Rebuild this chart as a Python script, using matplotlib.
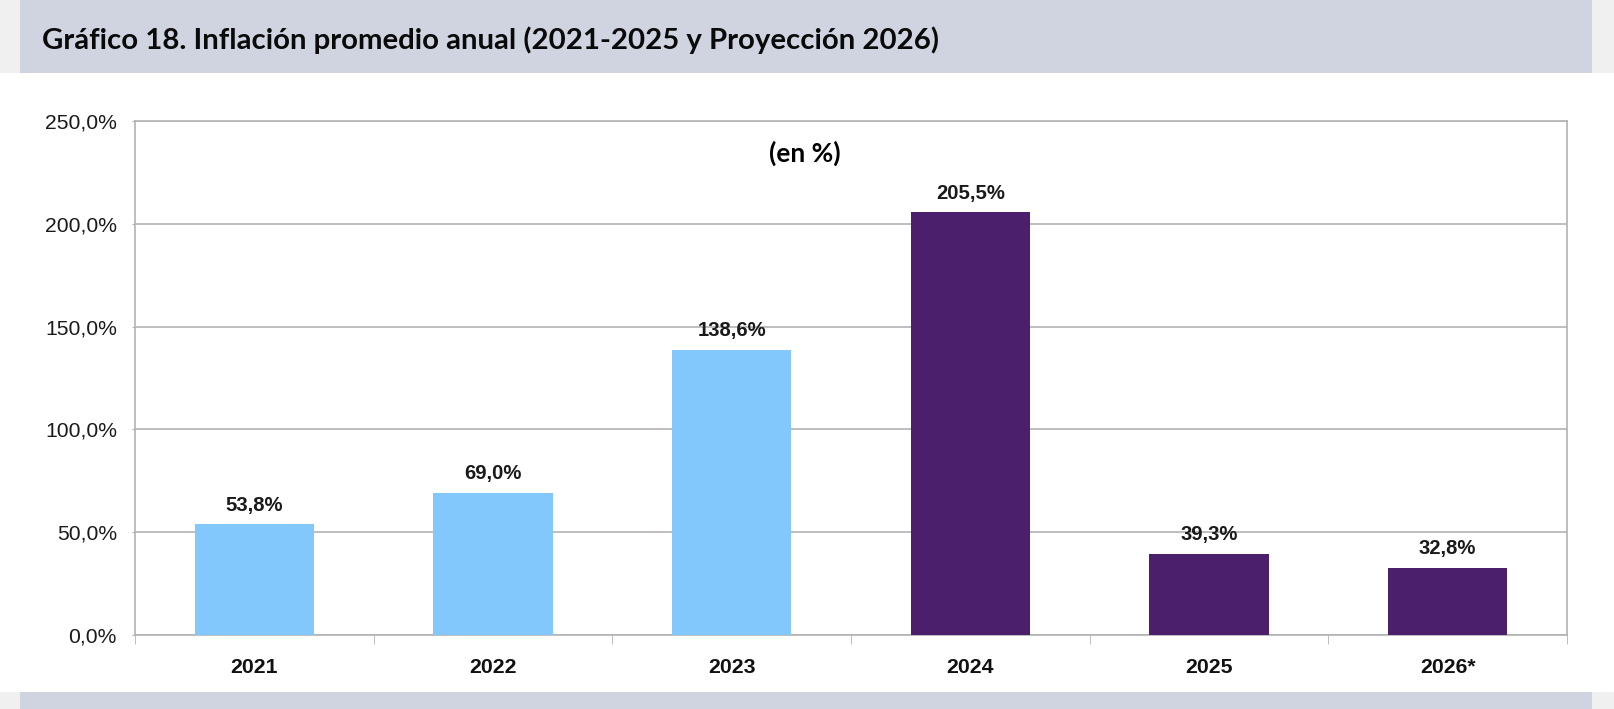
import matplotlib
matplotlib.use("Agg")
import matplotlib.pyplot as plt
from matplotlib.patches import Rectangle
from matplotlib.ticker import FixedLocator, FuncFormatter

years = ["2021", "2022", "2023", "2024", "2025", "2026*"]
inflation = [53.8, 69.0, 138.6, 205.5, 39.3, 32.8]
bar_colors = ["#82c8fc", "#82c8fc", "#82c8fc", "#4b1f6b", "#4b1f6b", "#4b1f6b"]
yticks = [0, 50, 100, 150, 200, 250]

title = "Gráfico 18. Inflación promedio anual (2021-2025 y Proyección 2026)"
subtitle = "(en %)"

W, H = 1614, 709
fig = plt.figure(figsize=(W / 100, H / 100), dpi=100)
fig.patch.set_facecolor("white")


def px_rect(x0, y0, x1, y1, color):
    # rectangle given in pixel coords from the top-left corner
    fig.patches.append(Rectangle((x0 / W, 1 - y1 / H), (x1 - x0) / W, (y1 - y0) / H,
                                 transform=fig.transFigure, facecolor=color,
                                 edgecolor="none", zorder=0))


band = "#cfd4e0"
side = "#f0f0f0"
px_rect(0, 0, 20, 73, side)
px_rect(20, 0, 1592, 73, band)
px_rect(1592, 0, W, 73, side)
px_rect(0, 692, 20, H, side)
px_rect(20, 692, 1592, H, band)
px_rect(1592, 692, W, H, side)

fig.text(42 / W, 1 - 40 / H, title, fontsize=21.2, fontweight="bold",
         family="Lato", ha="left", va="center", color="#0a0a0a")

ax = fig.add_axes([135 / W, 1 - 635 / H, (1567 - 135) / W, (635 - 121) / H])
x = list(range(len(years)))
bars = ax.bar(x, inflation, width=0.5, color=bar_colors, zorder=3)

ax.set_xlim(-0.5, len(years) - 0.5)
ax.set_ylim(0, 250)
ax.yaxis.set_major_locator(FixedLocator(yticks))
ax.yaxis.set_major_formatter(FuncFormatter(lambda v, p: f"{v:.1f}%".replace(".", ",")))
ax.yaxis.grid(True, color="#b3b3b3", linewidth=1.2, zorder=0)

ax.set_xticks(x)
ax.set_xticklabels(years, fontsize=15.3, fontweight="bold", family="Liberation Sans",
                   color="#111111")
ax.set_xticks([i - 0.5 for i in range(len(years) + 1)], minor=True)
ax.tick_params(axis="x", which="major", length=0, pad=16.5)
ax.tick_params(axis="x", which="minor", length=6.5, color="#b3b3b3", direction="out")
ax.tick_params(axis="y", length=2.5, color="#b3b3b3", pad=10.5, labelsize=15.2,
               labelcolor="#1a1a1a")
for lab in ax.get_yticklabels():
    lab.set_family("Liberation Sans")

for s in ax.spines.values():
    s.set_color("#b3b3b3")
    s.set_linewidth(1.2)

for xi, v in zip(x, inflation):
    ax.annotate(f"{v:.1f}%".replace(".", ","), (xi, v), xytext=(0, 7),
                textcoords="offset points", ha="center", va="bottom",
                fontsize=14.6, fontweight="bold", family="Liberation Sans",
                color="#1a1a1a")

ax.text(805 / W, 1 - 153 / H, subtitle, transform=fig.transFigure, ha="center",
        va="center", fontsize=19, fontweight="bold", family="Lato")

fig.savefig("out.png", dpi=100)
